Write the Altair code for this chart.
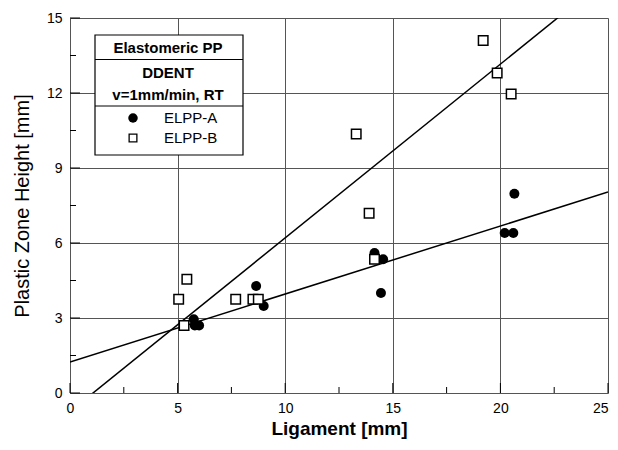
import altair as alt
import pandas as pd

# ---- data ----
elpp_a_x = [5.75, 5.8, 6.0, 8.65, 9.0, 14.15, 14.55, 14.45, 20.2, 20.6, 20.65]
elpp_a_y = [2.95, 2.7, 2.7, 4.28, 3.48, 5.6, 5.35, 4.0, 6.4, 6.4, 7.97]
elpp_b_x = [5.05, 5.3, 5.43, 7.7, 8.5, 8.75, 13.3, 13.9, 14.15, 19.2, 19.85, 20.5]
elpp_b_y = [3.75, 2.7, 4.55, 3.75, 3.75, 3.75, 10.36, 7.19, 5.35, 14.1, 12.8, 11.96]

# linear fits (slope, intercept) as drawn in the figure
fit_a = (0.272, 1.24)
fit_b = (0.695, -0.744)
fit_x_range = [0, 25]

x_ticks = [0, 5, 10, 15, 20, 25]
y_ticks = [0, 3, 6, 9, 12, 15]
x_minor = [2.5, 7.5, 12.5, 17.5, 22.5]
y_minor = [1.5, 4.5, 7.5, 10.5, 13.5]

FONT = "Liberation Sans"
W, H = 538, 375

df_a = pd.DataFrame({"x": elpp_a_x, "y": elpp_a_y})
df_b = pd.DataFrame({"x": elpp_b_x, "y": elpp_b_y})
fit_rows = []
for name, (m, c) in [("A", fit_a), ("B", fit_b)]:
    for xv in fit_x_range:
        fit_rows.append({"series": name, "x": xv, "y": m * xv + c})
df_fit = pd.DataFrame(fit_rows)

xscale = alt.Scale(domain=[0, 25], nice=False, zero=False)
yscale = alt.Scale(domain=[0, 15], nice=False, zero=False)

xaxis = alt.Axis(values=x_ticks, title="Ligament [mm]", titleFont=FONT, titleFontSize=19,
                 titleFontWeight="bold", titleColor="black", labelFont=FONT, labelFontSize=14,
                 labelColor="black", labelPadding=8, titlePadding=4, ticks=False, domain=False,
                 grid=True, gridColor="#555", gridWidth=1, labelFlush=False,
                 labelAlign=alt.ExprRef(expr="datum.value == 25 ? 'right' : 'center'"))
yaxis = alt.Axis(values=y_ticks, title="Plastic Zone Height [mm]", titleFont=FONT,
                 titleFontSize=20, titleFontWeight="normal", titleColor="black", labelFont=FONT,
                 labelFontSize=14, labelColor="black", labelPadding=8, titlePadding=14,
                 ticks=False, domain=False, grid=True, gridColor="#555", gridWidth=1,
                 labelFlush=False)

base_grid = alt.Chart(df_a).mark_point(opacity=0).encode(
    x=alt.X("x:Q", scale=xscale, axis=xaxis),
    y=alt.Y("y:Q", scale=yscale, axis=yaxis),
)

lines = alt.Chart(df_fit).mark_line(color="black", strokeWidth=1.5, clip=True).encode(
    x=alt.X("x:Q", scale=xscale),
    y=alt.Y("y:Q", scale=yscale),
    detail="series:N",
)

pts_a = alt.Chart(df_a).mark_point(shape="circle", filled=True, color="black", size=100,
                                   opacity=1).encode(
    x=alt.X("x:Q", scale=xscale), y=alt.Y("y:Q", scale=yscale))
pts_b = alt.Chart(df_b).mark_point(shape="square", filled=True, fill="white", stroke="black",
                                   strokeWidth=1.5, size=90, opacity=1).encode(
    x=alt.X("x:Q", scale=xscale), y=alt.Y("y:Q", scale=yscale))

# minor ticks (inward)
xm = alt.Chart(pd.DataFrame({"x": x_minor})).mark_rule(color="black", strokeWidth=1).encode(
    x=alt.X("x:Q", scale=xscale), y=alt.value(H), y2=alt.value(H - 6))
ym = alt.Chart(pd.DataFrame({"y": y_minor})).mark_rule(color="black", strokeWidth=1).encode(
    y=alt.Y("y:Q", scale=yscale), x=alt.value(0), x2=alt.value(6))
xM = alt.Chart(pd.DataFrame({"x": x_ticks})).mark_rule(color="black", strokeWidth=1).encode(
    x=alt.X("x:Q", scale=xscale), y=alt.value(H), y2=alt.value(H - 10))
yM = alt.Chart(pd.DataFrame({"y": y_ticks})).mark_rule(color="black", strokeWidth=1).encode(
    y=alt.Y("y:Q", scale=yscale), x=alt.value(0), x2=alt.value(10))

one = alt.Data(values=[{"k": 1}])
legend_box = alt.Chart(one).mark_rect(fill="white", stroke="black", strokeWidth=1.2).encode(
    x=alt.value(25), x2=alt.value(173), y=alt.value(17), y2=alt.value(137))
div1 = alt.Chart(one).mark_rule(color="black", strokeWidth=1).encode(
    x=alt.value(25), x2=alt.value(173), y=alt.value(41.5))
div2 = alt.Chart(one).mark_rule(color="black", strokeWidth=1).encode(
    x=alt.value(25), x2=alt.value(173), y=alt.value(88))

def txt(s, x, y, bold=True, align="center"):
    return alt.Chart(one).mark_text(text=s, font=FONT, fontSize=15,
                                    fontWeight="bold" if bold else "normal", color="black",
                                    align=align, baseline="middle").encode(
        x=alt.value(x), y=alt.value(y))

t1 = txt("Elastomeric PP", 98, 30)
t2 = txt("DDENT", 98, 55)
t3 = txt("v=1mm/min, RT", 98, 77)
t4 = txt("ELPP-A", 94, 100, bold=False, align="left")
t5 = txt("ELPP-B", 94, 120, bold=False, align="left")
sym_a = alt.Chart(one).mark_point(shape="circle", filled=True, color="black", size=90,
                                  opacity=1).encode(x=alt.value(63), y=alt.value(100))
sym_b = alt.Chart(one).mark_point(shape="square", filled=True, fill="white", stroke="black",
                                  strokeWidth=1.3, size=60, opacity=1).encode(
    x=alt.value(63), y=alt.value(120))

chart = alt.layer(
    base_grid, xm, ym, xM, yM, lines, pts_a, pts_b,
    legend_box, div1, div2, t1, t2, t3, t4, t5, sym_a, sym_b,
).properties(
    width=W, height=H,
    autosize=alt.AutoSizeParams(type="none"),
    padding={"left": 62, "top": 10, "right": 2, "bottom": 48},
).configure_view(stroke="black", strokeWidth=1.5).configure(background="white")

chart.save("out.html", embed_options={"renderer": "svg", "actions": False})
